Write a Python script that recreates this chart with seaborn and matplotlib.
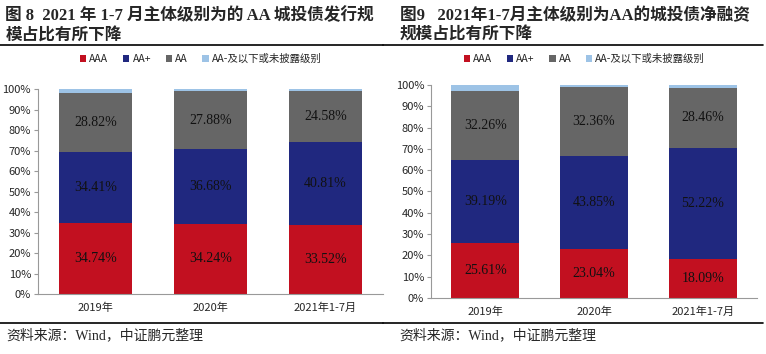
import pandas as pd
import seaborn as sns
import matplotlib.pyplot as plt
from matplotlib.lines import Line2D
from matplotlib.patches import Patch

# data (percent)
periods = ['2019年', '2020年', '2021年1-7月']
grades = ['AAA', 'AA+', 'AA', 'AA-及以下或未披露级别']
colors = ['#C21020', '#20287F', '#666666', '#9DC3E6']

issue_aaa = [34.74, 34.24, 33.52]
issue_aa_plus = [34.41, 36.68, 40.81]
issue_aa = [28.82, 27.88, 24.58]
issue_aa_minus = [2.03, 1.20, 1.09]

net_aaa = [25.61, 23.04, 18.09]
net_aa_plus = [39.19, 43.85, 52.22]
net_aa = [32.26, 32.36, 28.46]
net_aa_minus = [2.94, 0.75, 1.23]

title_left = '图 8  2021 年 1-7 月主体级别为的 AA 城投债发行规\n模占比有所下降'
title_right = '图9   2021年1-7月主体级别为AA的城投债净融资\n规模占比有所下降'
source_text = '资料来源：Wind，中证鹏元整理'

serif = ['Liberation Serif', 'Noto Sans CJK SC']
narrow = ['Liberation Sans Narrow', 'Noto Sans CJK SC']

sns.set_style('white')
plt.rcParams['font.family'] = ['DejaVu Sans', 'Noto Sans CJK SC']


def make_df(series):
    rows = []
    for g, vals in zip(grades, series):
        for p, v in zip(periods, vals):
            rows.append({'period': p, 'grade': g, 'value': v})
    return pd.DataFrame(rows)


def draw_panel(ax, df, width):
    bottom = [0.0, 0.0, 0.0]
    for g, c in zip(grades, colors):
        part = df[df['grade'] == g]
        vals = part['value'].tolist()
        sns.barplot(data=part, x='period', y='value', order=periods, color=c,
                    width=width, bottom=bottom, ax=ax, saturation=1,
                    edgecolor='none', linewidth=0, errorbar=None)
        if g != grades[-1]:
            for i, v in enumerate(vals):
                ax.text(i, bottom[i] + v / 2, f'{v:.2f}%', ha='center', va='center',
                        fontsize=10, family=serif, color='#111111')
        bottom = [b + v for b, v in zip(bottom, vals)]
    ax.set_ylim(0, 100)
    ax.set_xlim(-0.5, 2.5)
    ax.set_yticks(range(0, 101, 10))
    ax.set_yticklabels([f'{t}%' for t in range(0, 101, 10)], family=narrow, fontsize=8)
    ax.set_xticks(range(3))
    ax.set_xticklabels(periods, family=narrow, fontsize=8)
    ax.set_xlabel('')
    ax.set_ylabel('')
    for s in ['top', 'right']:
        ax.spines[s].set_visible(False)
    for s in ['left', 'bottom']:
        ax.spines[s].set_color('#999999')
        ax.spines[s].set_linewidth(0.8)
    ax.tick_params(axis='y', length=3, color='#999999', pad=2, left=True)
    ax.tick_params(axis='x', length=0, pad=6)


fig = plt.figure(figsize=(7.66, 3.54), dpi=100)
ax1 = fig.add_axes([0.0496, 0.1695, 0.4504, 0.579])
ax2 = fig.add_axes([0.5627, 0.1582, 0.4256, 0.6017])

draw_panel(ax1, make_df([issue_aaa, issue_aa_plus, issue_aa, issue_aa_minus]), 0.63)
draw_panel(ax2, make_df([net_aaa, net_aa_plus, net_aa, net_aa_minus]), 0.625)

# titles
fig.text(0.007, 0.978, title_left, ha='left', va='top', fontsize=12,
         fontweight='bold', family=serif, linespacing=1.3)
fig.text(0.522, 0.978, title_right, ha='left', va='top', fontsize=12,
         fontweight='bold', family=serif, linespacing=1.3)

# rules
for y in [0.873, 0.088]:
    fig.add_artist(Line2D([0.0, 0.5], [y, y], color='black', lw=1.2, transform=fig.transFigure))
    fig.add_artist(Line2D([0.5, 0.996], [y, y], color='black', lw=1.2, transform=fig.transFigure))

# sources
fig.text(0.008, 0.052, source_text, ha='left', va='center', fontsize=10, family=serif)
fig.text(0.521, 0.052, source_text, ha='left', va='center', fontsize=10, family=serif)

# legends
handles = [Patch(facecolor=c, edgecolor='none') for c in colors]
for x in [0.262, 0.763]:
    fig.legend(handles, grades, loc='center', bbox_to_anchor=(x, 0.833), ncol=4,
               frameon=False, prop={'family': narrow, 'size': 7.5},
               handlelength=0.6, handleheight=0.6, handletextpad=0.3, columnspacing=1.4)

fig.savefig('out.png', dpi=100)
